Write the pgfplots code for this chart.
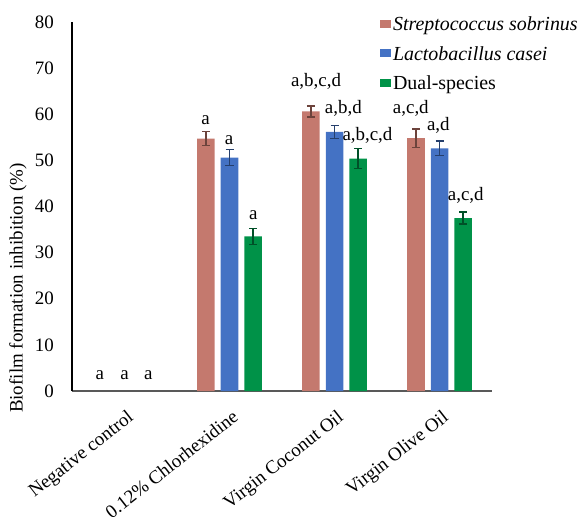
\documentclass[border=0pt]{standalone}
\usepackage{pgfplots}
\pgfplotsset{compat=1.18}
\usepackage{fontspec}
\setmainfont{Liberation Serif}
\definecolor{cred}{RGB}{196,121,110}
\definecolor{cblue}{RGB}{68,114,196}
\definecolor{cgreen}{RGB}{0,146,72}
\newcommand\fs{\fontsize{19}{22}\selectfont}
\newcommand\fl{\fontsize{20}{23}\selectfont}
\begin{document}
\begin{tikzpicture}
\path[use as bounding box] (0,0) rectangle (579bp,522bp);
\begin{axis}[
  at={(72bp,131bp)}, anchor=south west,
  scale only axis, width=420bp, height=369bp,
  xmin=-0.5, xmax=3.5, ymin=0, ymax=80,
  ytick={0,10,...,80},
  xtick={0,1,2,3},
  xticklabels={Negative control,0.12\% Chlorhexidine,Virgin Coconut Oil,Virgin Olive Oil},
  axis x line*=bottom, axis y line*=left,
  x axis line style={draw=black!65, line width=1.5bp, -},
  y axis line style={draw=black, line width=1.5bp, -},
  major tick length=0pt,
  /pgf/number format/assume math mode=true,
  tick label style={font=\fs},
  yticklabel style={anchor=east, inner sep=0pt, xshift=-18bp},
  xticklabel style={xshift=10bp, yshift=-28.5bp, rotate=38, anchor=base east, inner sep=0pt},
  ylabel={Biofilm formation inhibition (\%)},
  ylabel style={font=\fs, at={(axis description cs:-0.1286,0.279)}, anchor=center},
  ybar=6bp, bar width=17.5bp,
  legend image code/.code={\fill[#1] (0bp,-3.5bp) rectangle (11bp,4.5bp);},
  legend style={at={(axis description cs:0.733,1.0195)}, anchor=north west, draw=none, fill=none, font=\fl, inner sep=0pt, row sep=10bp, nodes={inner sep=2bp}},
  legend cell align=left,
  clip=false,
]
\addplot[fill=cred, draw=none, error bars/.cd, y dir=both, y explicit,
  error bar style={draw=cred!55!black, line width=1.2bp},
  error mark options={draw=cred!55!black, line width=1.2bp, mark size=4bp, rotate=90}]
  coordinates {(1,54.7) +- (0,1.5) (2,60.6) +- (0,1.2) (3,54.8) +- (0,2.0)};
\addplot[fill=cblue, draw=none, error bars/.cd, y dir=both, y explicit,
  error bar style={draw=cblue!55!black, line width=1.2bp},
  error mark options={draw=cblue!55!black, line width=1.2bp, mark size=4bp, rotate=90}]
  coordinates {(1,50.6) +- (0,1.7) (2,56.2) +- (0,1.4) (3,52.6) +- (0,1.6)};
\addplot[fill=cgreen, draw=none, error bars/.cd, y dir=both, y explicit,
  error bar style={draw=cgreen!55!black, line width=1.2bp},
  error mark options={draw=cgreen!55!black, line width=1.2bp, mark size=4bp, rotate=90}]
  coordinates {(1,33.5) +- (0,1.7) (2,50.4) +- (0,2.2) (3,37.5) +- (0,1.3)};
\legend{\textit{Streptococcus sobrinus},\textit{Lactobacillus casei},Dual-species}
\begin{scope}[every node/.style={font=\fs, inner sep=0pt, anchor=center}]
\node at (axis cs:-0.234,3.5) {a};
\node at (axis cs:0,3.5) {a};
\node at (axis cs:0.226,3.5) {a};
\node at (axis cs:0.773,58.75) {a};
\node at (axis cs:0.995,54.4) {a};
\node at (axis cs:1.227,38.2) {a};
\node at (axis cs:1.824,67.1) {a,b,c,d};
\node at (axis cs:2.084,61.3) {a,b,d};
\node at (axis cs:2.314,55.5) {a,b,c,d};
\node at (axis cs:2.727,61.3) {a,c,d};
\node at (axis cs:2.989,57.5) {a,d};
\node at (axis cs:3.25,42.5) {a,c,d};
\end{scope}
\end{axis}
\end{tikzpicture}
\end{document}
